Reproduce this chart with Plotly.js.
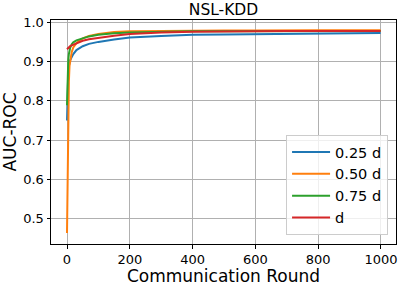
<!DOCTYPE html>
<html>
<head>
<meta charset="utf-8">
<script src="https://cdn.plot.ly/plotly-3.0.1.min.js"></script>
<style>html,body{margin:0;padding:0;background:#fff;}#chart{width:399px;height:286px;}</style>
</head>
<body>
<div id="chart"></div>
<script>
const rounds = [0,2,4,6,8,10,15,20,30,40,50,70,100,150,200,300,400,500,600,700,800,900,999];
const auc025 = [0.750,0.840,0.875,0.890,0.898,0.904,0.912,0.920,0.930,0.936,0.940,0.946,0.951,0.957,0.962,0.966,0.969,0.970,0.971,0.972,0.973,0.973,0.974];
const auc050 = [0.462,0.620,0.760,0.850,0.890,0.905,0.925,0.937,0.948,0.955,0.960,0.966,0.971,0.976,0.978,0.979,0.980,0.980,0.980,0.981,0.981,0.981,0.981];
const auc075 = [0.789,0.870,0.905,0.920,0.930,0.936,0.945,0.950,0.955,0.958,0.961,0.965,0.969,0.973,0.975,0.977,0.978,0.978,0.978,0.978,0.979,0.979,0.979];
const aucD   = [0.932,0.934,0.936,0.938,0.939,0.940,0.942,0.944,0.948,0.951,0.954,0.958,0.962,0.967,0.971,0.975,0.977,0.978,0.978,0.979,0.979,0.979,0.979];
const names = ['0.25 d','0.50 d','0.75 d','d'];
const colors = ['#1f77b4','#ff7f0e','#2ca02c','#d62728'];
const series = [auc025, auc050, auc075, aucD];
const xTicks = [0,200,400,600,800,1000];
const yTicks = [0.5,0.6,0.7,0.8,0.9,1.0];
const yTickText = ['0.5','0.6','0.7','0.8','0.9','1.0'];

const traces = series.map((ys, i) => ({
  x: rounds, y: ys, name: names[i], type: 'scatter', mode: 'lines',
  line: {color: colors[i], width: 2}
}));

const font = {family: 'DejaVu Sans, sans-serif', color: '#000'};
const f = s => Object.assign({size: s}, font);
const layout = {
  width: 399, height: 286,
  margin: {l: 51, r: 3, t: 20, b: 42, pad: 0},
  paper_bgcolor: '#fff', plot_bgcolor: '#fff',
  font: f(13),
  title: {text: 'NSL-KDD', font: f(15.5), xref: 'paper', x: 0.5, xanchor: 'center', yref: 'container', y: 0.968, yanchor: 'middle'},
  xaxis: {
    range: [-51, 1048], tickvals: xTicks,
    showgrid: true, gridcolor: '#b0b0b0', gridwidth: 1, zeroline: false,
    showline: true, mirror: true, linecolor: '#000', linewidth: 1,
    ticks: 'outside', ticklen: 3.5, tickcolor: '#000', tickfont: f(13),
    title: {text: 'Communication Round', font: f(17), standoff: 6}
  },
  yaxis: {
    range: [0.434, 1.007], tickvals: yTicks, ticktext: yTickText,
    showgrid: true, gridcolor: '#b0b0b0', gridwidth: 1, zeroline: false,
    showline: true, mirror: true, linecolor: '#000', linewidth: 1,
    ticks: 'outside', ticklen: 3.5, tickcolor: '#000', tickfont: f(13),
    title: {text: 'AUC-ROC', font: f(17), standoff: 4}
  },
  legend: {
    x: 0.977, xanchor: 'right', y: 0.04, yanchor: 'bottom',
    bgcolor: 'rgba(255,255,255,0.8)', bordercolor: '#cccccc', borderwidth: 1,
    font: f(14.5), itemwidth: 38
  },
  showlegend: true
};
Plotly.newPlot('chart', traces, layout, {staticPlot: true, displayModeBar: false});
</script>
</body>
</html>
